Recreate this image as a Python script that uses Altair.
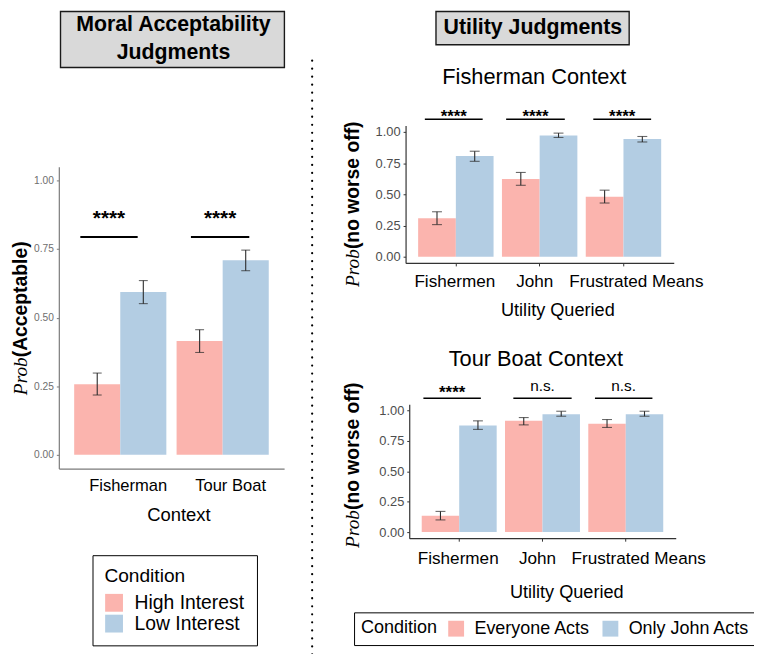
import altair as alt
import pandas as pd

FONT = "Liberation Sans"
SERIF = "Liberation Serif"
W, H = 753, 646          # drawing area (page offset 8px)
OX, OY = 8, 8
PINK, BLUE = "#FBB4AE", "#B3CDE3"
ERR = "#2b2b2b"
TICKS = [0, 0.25, 0.5, 0.75, 1.0]
Y_DOMAIN = [-0.05, 1.05]

# ---------------- data ----------------
moral_context = ["Fisherman", "Fisherman", "Tour Boat", "Tour Boat"]
moral_condition = ["High Interest", "Low Interest", "High Interest", "Low Interest"]
moral_mean = [0.257, 0.593, 0.415, 0.709]
moral_lo = [0.218, 0.551, 0.373, 0.671]
moral_hi = [0.298, 0.635, 0.456, 0.746]

utility_queried = ["Fishermen", "Fishermen", "John", "John",
                   "Frustrated Means", "Frustrated Means"]
utility_condition = ["Everyone Acts", "Only John Acts"] * 3
fisher_mean = [0.307, 0.806, 0.622, 0.971, 0.480, 0.942]
fisher_lo = [0.257, 0.764, 0.572, 0.955, 0.430, 0.919]
fisher_hi = [0.360, 0.845, 0.675, 0.990, 0.533, 0.963]
tour_mean = [0.135, 0.875, 0.913, 0.967, 0.889, 0.967]
tour_lo = [0.100, 0.843, 0.880, 0.951, 0.859, 0.951]
tour_hi = [0.170, 0.913, 0.940, 0.992, 0.924, 0.992]

# significance annotations (x in category units, y in probability units)
moral_sig_label = ["****", "****"]
moral_sig_x0 = [0.61, 1.69]
moral_sig_x1 = [1.17, 2.26]
moral_sig_line = [0.794, 0.794]
moral_sig_text = [0.838, 0.838]

fisher_sig_label = ["****", "****", "****"]
fisher_sig_x0 = [0.63, 1.60, 2.64]
fisher_sig_x1 = [1.32, 2.30, 3.33]
fisher_sig_line = [1.101, 1.101, 1.101]
fisher_sig_text = [1.080, 1.080, 1.080]

tour_sig_label = ["****", "n.s.", "n.s."]
tour_sig_x0 = [0.57, 1.65, 2.63]
tour_sig_x1 = [1.26, 2.35, 3.32]
tour_sig_line = [1.098, 1.098, 1.098]
tour_sig_text = [1.101, 1.157, 1.157]

moral_cats = ["Fisherman", "Tour Boat"]
moral_conds = ["High Interest", "Low Interest"]
util_cats = ["Fishermen", "John", "Frustrated Means"]
util_conds = ["Everyone Acts", "Only John Acts"]


def frame(cat, cond, mean, lo, hi):
    return pd.DataFrame({"cat": cat, "cond": cond, "mean": mean, "lo": lo, "hi": hi})


def sigframe(label, x0, x1, ly, ty):
    return pd.DataFrame({"label": label, "x0": x0, "x1": x1, "ly": ly, "ty": ty})


def gx(px):
    return px - OX


def gy(py):
    return py - OY


def panel(df, sig, cats, conds, xr, yr, x_axis, y_axis, legend, cap,
          star_size, ns_size, sig_width):
    n = len(cats)
    xs = alt.Scale(domain=cats, range=xr, paddingInner=0.1, paddingOuter=0.15)
    ys = alt.Scale(domain=Y_DOMAIN, range=yr, nice=False, zero=False)
    xo = alt.Scale(domain=conds, paddingInner=0, paddingOuter=0)
    xq = alt.Scale(domain=[0.4, n + 0.6], range=xr, nice=False, zero=False)
    base = alt.Chart(df)

    def X(axis):
        return alt.X("cat:N", scale=xs, axis=axis)

    XO = alt.XOffset("cond:N", scale=xo)
    bars = base.mark_bar().encode(
        x=X(x_axis), xOffset=XO,
        y=alt.Y("mean:Q", scale=ys, axis=y_axis, stack=None),
        color=alt.Color("cond:N", scale=alt.Scale(domain=conds, range=[PINK, BLUE]),
                        legend=legend),
    )
    err = base.mark_rule(color=ERR, strokeWidth=1.1).encode(
        x=X(None), xOffset=XO,
        y=alt.Y("lo:Q", scale=ys, axis=None), y2="hi:Q")
    cap_lo = base.mark_tick(orient="horizontal", color=ERR, size=cap, thickness=1.1).encode(
        x=X(None), xOffset=XO, y=alt.Y("lo:Q", scale=ys, axis=None))
    cap_hi = base.mark_tick(orient="horizontal", color=ERR, size=cap, thickness=1.1).encode(
        x=X(None), xOffset=XO, y=alt.Y("hi:Q", scale=ys, axis=None))
    sig_rule = alt.Chart(sig).mark_rule(color="black", strokeWidth=sig_width).encode(
        x=alt.X("x0:Q", scale=xq, axis=None), x2="x1:Q",
        y=alt.Y("ly:Q", scale=ys, axis=None))
    sb = alt.Chart(sig).transform_calculate(xm="(datum.x0 + datum.x1) / 2")
    stars = sb.transform_filter("datum.label == '****'").mark_text(
        font=FONT, fontSize=star_size, fontWeight="bold", baseline="alphabetic",
        align="center", color="black").encode(
        x=alt.X("xm:Q", scale=xq, axis=None), y=alt.Y("ty:Q", scale=ys, axis=None),
        text="label:N")
    ns = sb.transform_filter("datum.label != '****'").mark_text(
        font=FONT, fontSize=ns_size, baseline="alphabetic",
        align="center", color="black").encode(
        x=alt.X("xm:Q", scale=xq, axis=None), y=alt.Y("ty:Q", scale=ys, axis=None),
        text="label:N")
    return [bars, err, cap_lo, cap_hi, sig_rule, stars, ns]


def y_axis(x_page, label_size, label_color, line_color):
    return alt.Axis(orient="left", offset=-gx(x_page), values=TICKS, format=".2f",
                    title=None, grid=False, domainColor=line_color, domainWidth=1.2,
                    tickColor=line_color, tickWidth=1, tickSize=2.5,
                    labelFont=FONT, labelFontSize=label_size, labelColor=label_color,
                    labelPadding=3, labelOverlap=False)


util_label_offset = {
    "condition": [
        {"test": "datum.value == 'John'", "value": -5},
        {"test": "datum.value == 'Frustrated Means'", "value": 13},
    ],
    "value": -1,
}


def util_x_axis(axis_page_y, label_pad, title_y, title_x_page):
    return alt.Axis(orient="bottom", offset=gy(axis_page_y) - H, title="Utility Queried",
                    titleFont=FONT, titleFontSize=18.3, titleFontWeight="normal",
                    titleColor="black", titleBaseline="alphabetic", titleY=title_y,
                    titleX=gx(title_x_page), labelAngle=0, labelFont=FONT,
                    labelFontSize=17.3, labelColor="black", labelPadding=label_pad,
                    labelOffset=util_label_offset, tickSize=3, tickColor="#333333",
                    domainColor="#333333", domainWidth=1.2, grid=False)


# ---------------- panels ----------------
left_x_axis = alt.Axis(orient="bottom", offset=gy(469.85) - H, title="Context",
                       titleFont=FONT, titleFontSize=18.6, titleFontWeight="normal",
                       titleColor="black", titleBaseline="alphabetic", titleY=52.2,
                       titleX=gx(180), labelAngle=0, labelFont=FONT, labelFontSize=16.7,
                       labelColor="black", labelPadding=9.3, labelOffset=8,
                       ticks=False, tickSize=0, domainColor="#7a7a7a", domainWidth=1.3,
                       grid=False)

left_legend = alt.Legend(orient="none", legendX=gx(93.3), legendY=gy(557.3),
                         direction="vertical", title="Condition", titleFont=FONT,
                         titleFontSize=19.3, titleFontWeight="normal", titleColor="black",
                         titlePadding=7, labelFont=FONT, labelFontSize=19.5,
                         labelColor="black", labelOffset=11, symbolType="square",
                         symbolSize=324, symbolStrokeWidth=0, symbolOpacity=1,
                         rowPadding=0, padding=12, strokeColor="black",
                         fillColor="white", cornerRadius=0)

right_legend = alt.Legend(orient="none", legendX=gx(357.3), legendY=gy(615),
                          direction="horizontal", title="Condition", titleOrient="left",
                          titleAnchor="middle", titleBaseline="middle", titleFont=FONT,
                          titleFontSize=18.2, titleFontWeight="normal", titleColor="black",
                          titlePadding=10, labelFont=FONT, labelFontSize=18.1,
                          labelColor="black", labelOffset=9.4, columnPadding=10.7,
                          symbolType="square", symbolSize=256, symbolStrokeWidth=0,
                          symbolOpacity=1, padding=7, strokeColor="black",
                          fillColor="white", cornerRadius=0)

layers = []
layers += panel(frame(moral_context, moral_condition, moral_mean, moral_lo, moral_hi),
                sigframe(moral_sig_label, moral_sig_x0, moral_sig_x1, moral_sig_line, moral_sig_text),
                moral_cats, moral_conds,
                xr=[gx(59.3), gx(286.7)], yr=[gy(469.85), gy(165.15)],
                x_axis=left_x_axis, y_axis=y_axis(59.3, 10.3, "#6e6e6e", "#7a7a7a"),
                legend=left_legend, cap=9, star_size=21, ns_size=15.5, sig_width=2)
layers += panel(frame(utility_queried, utility_condition, fisher_mean, fisher_lo, fisher_hi),
                sigframe(fisher_sig_label, fisher_sig_x0, fisher_sig_x1, fisher_sig_line, fisher_sig_text),
                util_cats, util_conds,
                xr=[gx(409.3), gx(680)], yr=[gy(262.3), gy(123.7)],
                x_axis=util_x_axis(262.3, 6.3, 52.7, 562.5),
                y_axis=y_axis(409.3, 13, "#4D4D4D", "#333333"),
                legend=None, cap=10, star_size=17, ns_size=15.5, sig_width=1.6)
layers += panel(frame(utility_queried, utility_condition, tour_mean, tour_lo, tour_hi),
                sigframe(tour_sig_label, tour_sig_x0, tour_sig_x1, tour_sig_line, tour_sig_text),
                util_cats, util_conds,
                xr=[gx(413), gx(682)], yr=[gy(540.15), gy(404.85)],
                x_axis=util_x_axis(540.15, 8.4, 59.9, 571.5),
                y_axis=y_axis(413, 13, "#4D4D4D", "#333333"),
                legend=right_legend, cap=10, star_size=17, ns_size=15.5, sig_width=1.6)

# ---------------- decorations ----------------
one = pd.DataFrame({"k": [0]})


def box(x0, x1, y0, y1):
    return alt.Chart(one).mark_rect(fill="#D9D9D9", stroke="#1a1a1a", strokeWidth=1.4).encode(
        x=alt.value(gx(x0)), x2=alt.value(gx(x1)), y=alt.value(gy(y0)), y2=alt.value(gy(y1)))


def text(t, x, y, size, weight="normal", **kw):
    return alt.Chart(one).mark_text(text=t, font=kw.pop("font", FONT), fontSize=size,
                                    fontWeight=weight, baseline="alphabetic",
                                    color="black", **kw).encode(
        x=alt.value(gx(x)), y=alt.value(gy(y)))


def ytitle(word, x_base, junction, size):
    return [
        text("Prob", x_base, junction, size, font=SERIF, fontStyle="italic",
             angle=270, align="right"),
        text(word, x_base, junction, size, weight="bold", angle=270, align="left"),
    ]


layers += [
    box(61, 287, 8.5, 65),
    text(["Moral Acceptability", "Judgments"], 175, 28.5, 21.5, weight="bold",
         align="center", lineHeight=28),
    box(440, 635, 8.5, 42),
    text("Utility Judgments", 537.8, 31.7, 21.5, weight="bold", align="center"),
    text("Fisherman Context", 539.2, 81.7, 22, align="center"),
    text("Tour Boat Context", 540.8, 366, 22, align="center"),
    alt.Chart(one).mark_rule(color="black", strokeWidth=2.2, strokeDash=[0.1, 8],
                             strokeCap="round").encode(
        x=alt.value(gx(315)), y=alt.value(gy(58)), y2=alt.value(gy(662))),
]
layers += ytitle("(Acceptable)", 27, 357.5, 19.5)
layers += ytitle("(no worse off)", 362, 248.3, 19.5)
layers += ytitle("(no worse off)", 362, 511.7, 19.5)

chart = alt.layer(*layers).resolve_scale(
    x="independent", y="independent", xOffset="independent", color="independent"
).resolve_axis(
    x="independent", y="independent"
).resolve_legend(
    color="independent"
).properties(
    width=W, height=H, padding=0, autosize=alt.AutoSizeParams(type="none")
).configure_view(strokeWidth=0).configure_axis(grid=False)

chart.save("out.html", embed_options={"renderer": "svg", "actions": False})
